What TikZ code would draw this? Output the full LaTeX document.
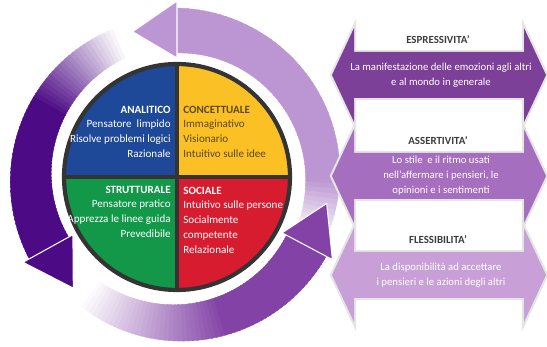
\documentclass[tikz,border=0pt]{standalone}
\usepackage{fontspec}
\setmainfont{Carlito}
\definecolor{quadblue}{RGB}{30,72,152}
\definecolor{quadyellow}{RGB}{250,192,36}
\definecolor{quadgreen}{RGB}{18,152,72}
\definecolor{quadred}{RGB}{214,28,46}
\definecolor{rimgray}{RGB}{52,52,52}
\definecolor{olivetext}{RGB}{92,72,28}
\definecolor{ringlight}{RGB}{188,150,210}
\definecolor{ringdark}{RGB}{76,10,132}
\definecolor{ringmid}{RGB}{130,66,166}
\definecolor{traitone}{RGB}{124,64,152}
\definecolor{traittwo}{RGB}{166,110,190}
\definecolor{traitthree}{RGB}{200,160,215}
\definecolor{titlegray}{RGB}{60,60,60}

% tail angle, head base angle, tip angle, colour, fade share
\newcommand{\cyclearrow}[5]{%
  \foreach \k in {0,...,59} {
    \pgfmathsetmacro{\tA}{\k/60}
    \pgfmathsetmacro{\tB}{(\k+1)/60}
    \pgfmathsetmacro{\angA}{#1+\tA*(#2-#1)}
    \pgfmathsetmacro{\angB}{#1+\tB*(#2-#1)+0.5}
    \pgfmathsetmacro{\rinA}{130-6*\tA}
    \pgfmathsetmacro{\rinB}{130-6*\tB}
    \pgfmathsetmacro{\routA}{161+8*\tA}
    \pgfmathsetmacro{\routB}{161+8*\tB}
    \pgfmathtruncatemacro{\mixpc}{min(100,100*\tA/#5)}
    \filldraw[#4!\mixpc!white, line width=0.2pt]
      (\angA:\rinA) -- (\angA:\routA) -- (\angB:\routB) -- (\angB:\rinB) -- cycle;
  }
  \filldraw[fill=#4, draw=white, line width=0.6pt]
    (#2:119) -- (#2:176) -- (#3:152) -- cycle;
}

\tikzset{
  quadtext/.style={inner sep=0pt, font=\fontsize{6.3}{8.4}\selectfont},
  traitshape/.style={preaction={draw=black!10, line width=2.4pt}},
  traittitle/.style={inner sep=0pt, text=titlegray, font=\fontsize{6.2}{7}\selectfont\bfseries},
  traittext/.style={inner sep=0pt, align=center, text=white, font=\fontsize{6.1}{8.5}\selectfont},
}

\begin{document}
\begin{tikzpicture}[x=0.02cm, y=0.02cm]
  \useasboundingbox (0,0) rectangle (547,347);

  \begin{scope}[shift={(177,170)}]
    \cyclearrow{-25}{90}{107}{ringlight}{0.2}
    \cyclearrow{112}{209}{227}{ringdark}{0.4}
    \cyclearrow{232}{332}{350}{ringmid}{0.55}

    \fill[quadblue] (0,0) -- (0,113) arc (90:180:113) -- cycle;
    \fill[quadyellow] (0,0) -- (113,0) arc (0:90:113) -- cycle;
    \fill[quadgreen] (0,0) -- (-113,0) arc (180:270:113) -- cycle;
    \fill[quadred] (0,0) -- (0,-113) arc (270:360:113) -- cycle;
    \draw[rimgray, line width=2.4pt] (0,0) circle (113);
    \draw[rimgray, line width=2.2pt] (-113,0) -- (113,0);
    \draw[rimgray, line width=2.2pt] (0,-113) -- (0,113);
  \end{scope}

  \node[quadtext, anchor=north east, align=right, text=white] (analitico) at (171,241.5)
    {\textbf{ANALITICO}\\Pensatore\ \ limpido\\Risolve problemi logici\\Razionale};
  \node[quadtext, anchor=north west, align=left, text=olivetext] (concettuale) at (183,241.5)
    {\textbf{CONCETTUALE}\\Immaginativo\\Visionario\\Intuitivo sulle idee};
  \node[quadtext, anchor=north east, align=right, text=white] (strutturale) at (171,161.5)
    {\textbf{STRUTTURALE}\\Pensatore pratico\\Apprezza le linee guida\\Prevedibile};
  \node[quadtext, anchor=north west, align=left, text=white] (sociale) at (183,160.5)
    {\textbf{SOCIALE}\\Intuitivo sulle persone\\Socialmente\\competente\\Relazionale};

  \foreach \cy/\col/\ttl/\txt/\nm in {
      272/traitone/{ESPRESSIVITA'}/{La manifestazione delle emozioni agli altri\\e al mondo in generale}/espr,
      171/traittwo/{ASSERTIVITA'}/{Lo stile\ \ e il ritmo usati\\nell'affermare i pensieri, le\\opinioni e i sentimenti}/asse,
      72/traitthree/{FLESSIBILITA'}/{La disponibilità ad accettare\\i pensieri e le azioni degli altri}/fles} {
    \fill[\col, traitshape] (332,\cy) -- (354,\cy+47) -- (354,\cy+23) -- (524,\cy+23)
      -- (524,\cy+47) -- (546,\cy) -- (524,\cy-47) -- (524,\cy-23) -- (354,\cy-23)
      -- (354,\cy-47) -- cycle;
    \node[traittitle] (\nm-title) at (438,\cy+35) {\ttl};
    \node[traittext] (\nm-text) at (441,\cy) {\txt};
  }
\end{tikzpicture}
\end{document}
